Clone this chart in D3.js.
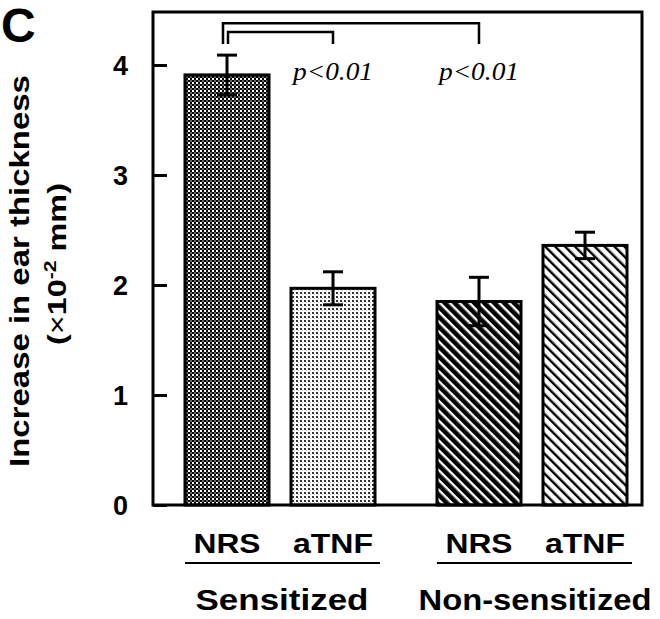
<!DOCTYPE html>
<html><head><meta charset="utf-8">
<script src="https://cdn.jsdelivr.net/npm/d3@7"></script>
<style>
html,body{margin:0;padding:0;background:#fff;}
svg{display:block;}
</style>
</head><body>
<svg id="chart" width="660" height="619"></svg>
<script>
// ---- data ----
const categories = ["NRS", "aTNF", "NRS", "aTNF"];
const groups = ["Sensitized", "Non-sensitized"];
const groupOf = [0, 0, 1, 1];
const means = [3.91, 1.97, 1.85, 2.36];
const errors = [0.18, 0.15, 0.22, 0.12];
const yTicks = [0, 1, 2, 3, 4];
const comparisons = [
  { from: 0, to: 2, level: 4.38, legEnd: 4.19, label: "p<0.01" },
  { from: 0, to: 1, level: 4.30, legEnd: 4.19, label: "p<0.01" }
];
const patternIds = ["pat-check", "pat-dots", "pat-darkhatch", "pat-lighthatch"];

// ---- layout ----
const frame = { left: 153, right: 642, top: 12, bottom: 505 };
const svg = d3.select("#chart");
const font = "'Liberation Sans', Arial, Helvetica, sans-serif";

const y = d3.scaleLinear().domain([0, 4.482]).range([frame.bottom, frame.top]);
const xGroup = d3.scaleBand().domain(groups).range([185, 627]).paddingInner(0.246).paddingOuter(0);
const xInner = d3.scaleBand().domain([0, 1]).range([0, xGroup.bandwidth()]).paddingInner(0.2075).paddingOuter(0);
const barX = i => xGroup(groups[groupOf[i]]) + xInner(i % 2);
const barC = i => barX(i) + xInner.bandwidth() / 2;

// ---- patterns ----
const defs = svg.append("defs");
let p = defs.append("pattern").attr("id", "pat-check").attr("patternUnits", "userSpaceOnUse").attr("width", 4).attr("height", 4);
p.append("rect").attr("width", 4).attr("height", 4).attr("fill", "#fff");
p.append("rect").attr("x", 0).attr("y", 0).attr("width", 2).attr("height", 2).attr("fill", "#000");
p.append("rect").attr("x", 2).attr("y", 2).attr("width", 2).attr("height", 2).attr("fill", "#000");
p.append("rect").attr("x", 2).attr("y", 0).attr("width", 2).attr("height", 2).attr("fill", "#666");

p = defs.append("pattern").attr("id", "pat-dots").attr("patternUnits", "userSpaceOnUse").attr("width", 4).attr("height", 4);
p.append("rect").attr("width", 4).attr("height", 4).attr("fill", "#fff");
p.append("rect").attr("x", 0).attr("y", 0).attr("width", 2).attr("height", 2).attr("fill", "#333");
p.append("rect").attr("x", 2).attr("y", 2).attr("width", 1).attr("height", 1).attr("fill", "#bbb");

p = defs.append("pattern").attr("id", "pat-darkhatch").attr("patternUnits", "userSpaceOnUse").attr("width", 7).attr("height", 7).attr("patternTransform", "rotate(-45)");
p.append("rect").attr("width", 7).attr("height", 7).attr("fill", "#fff");
p.append("rect").attr("x", 0).attr("width", 4.6).attr("height", 7).attr("fill", "#000");

p = defs.append("pattern").attr("id", "pat-lighthatch").attr("patternUnits", "userSpaceOnUse").attr("width", 7).attr("height", 7).attr("patternTransform", "rotate(-45)");
p.append("rect").attr("width", 7).attr("height", 7).attr("fill", "#fff");
p.append("rect").attr("x", 0).attr("width", 2.4).attr("height", 7).attr("fill", "#000");

// ---- bars ----
svg.append("g").selectAll("rect").data(means).join("rect")
  .attr("x", (d, i) => barX(i))
  .attr("y", d => y(d))
  .attr("width", xInner.bandwidth())
  .attr("height", d => y(0) - y(d))
  .attr("fill", (d, i) => `url(#${patternIds[i]})`)
  .attr("stroke", "#000").attr("stroke-width", 3);

// ---- error bars ----
const eb = svg.append("g").attr("stroke", "#000").attr("stroke-width", 3);
means.forEach((m, i) => {
  const cx = barC(i), cap = 10;
  eb.append("line").attr("x1", cx).attr("x2", cx).attr("y1", y(m + errors[i])).attr("y2", y(m - errors[i]));
  eb.append("line").attr("x1", cx - cap).attr("x2", cx + cap).attr("y1", y(m + errors[i])).attr("y2", y(m + errors[i]));
  eb.append("line").attr("x1", cx - cap).attr("x2", cx + cap).attr("y1", y(m - errors[i])).attr("y2", y(m - errors[i]));
});

// ---- frame and axis ----
svg.append("rect").attr("x", frame.left).attr("y", frame.top)
  .attr("width", frame.right - frame.left).attr("height", frame.bottom - frame.top)
  .attr("fill", "none").attr("stroke", "#000").attr("stroke-width", 3);

const yAxis = d3.axisLeft(y).tickValues(yTicks).tickFormat(d3.format("d")).tickSizeInner(-14).tickSizeOuter(0).tickPadding(25);
const ag = svg.append("g").attr("transform", `translate(${frame.left},0)`).call(yAxis);
ag.select(".domain").remove();
ag.selectAll(".tick line").attr("stroke", "#000").attr("stroke-width", 3);
ag.selectAll(".tick text").attr("font-family", font).attr("font-weight", "bold").attr("font-size", 27).attr("fill", "#000").attr("dy", "0.36em");

// ---- comparison brackets ----
const br = svg.append("g").attr("fill", "none").attr("stroke", "#000").attr("stroke-width", 2.5);
comparisons.forEach((c, k) => {
  const x1 = barC(c.from) + (k === 0 ? -4 : 1);
  const x2 = barC(c.to);
  br.append("path").attr("d", `M${x1},${y(c.legEnd)}V${y(c.level)}H${x2}V${y(c.legEnd)}`);
});
comparisons.forEach(c => {
  svg.append("text").attr("x", barC(c.to)).attr("y", y(3.86))
    .attr("text-anchor", "middle").attr("font-family", "'Liberation Serif', 'Times New Roman', serif")
    .attr("font-style", "italic").attr("font-size", 25).attr("textLength", 80).attr("lengthAdjust", "spacingAndGlyphs")
    .text(c.label);
});

// ---- helper: stretched text ----
function stretchedText(str, cx, cy, size, width, rotate) {
  const t = svg.append("text").attr("font-family", font).attr("font-weight", "bold")
    .attr("font-size", size).attr("text-anchor", "middle").attr("fill", "#000").text(str);
  const w = t.node().getComputedTextLength();
  t.attr("transform", `translate(${cx},${cy})${rotate ? " rotate(-90)" : ""} scale(${width / w},1)`);
  return t;
}

// ---- category labels ----
const catWidths = { NRS: 67, aTNF: 80 };
categories.forEach((c, i) => stretchedText(c, barC(i), 553, 28, catWidths[c], false));
// underlines
const ul = svg.append("g").attr("stroke", "#000").attr("stroke-width", 2.2);
groups.forEach((g, gi) => {
  ul.append("line").attr("x1", xGroup(g)).attr("x2", xGroup(g) + xGroup.bandwidth() + 5)
    .attr("y1", 563).attr("y2", 563);
});
// group labels
stretchedText(groups[0], 282, 610, 30, 173, false);
stretchedText(groups[1], 535, 610, 30, 233, false);

// ---- y axis title ----
stretchedText("Increase in ear thickness", 29, 271, 28, 392, true);
{
  const t = svg.append("text").attr("font-family", font).attr("font-weight", "bold")
    .attr("font-size", 26).attr("text-anchor", "middle").attr("fill", "#000");
  t.append("tspan").text("(");
  t.append("tspan").attr("font-weight", "normal").text("×");
  t.append("tspan").text("10");
  t.append("tspan").attr("font-size", 17).attr("dy", -10).text("-2");
  t.append("tspan").attr("dy", 10).text(" mm)");
  const w = t.node().getComputedTextLength();
  t.attr("transform", `translate(66,264) rotate(-90) scale(${162 / w},1)`);
}

// ---- panel letter ----
svg.append("text").attr("x", 1).attr("y", 42).attr("font-family", font).attr("font-weight", "bold")
  .attr("font-size", 48).attr("fill", "#000").text("C");
</script>
</body></html>
